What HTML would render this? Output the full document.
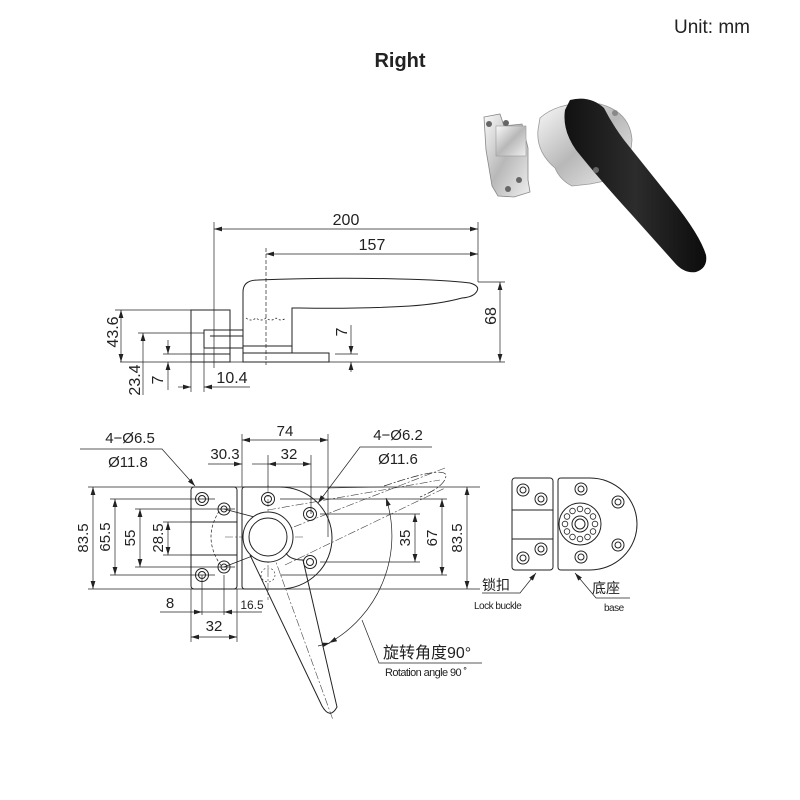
<!DOCTYPE html>
<html><head><meta charset="utf-8">
<style>
html,body{margin:0;padding:0;background:#fff;}
svg{display:block;}
text{font-family:"Liberation Sans","Noto Sans CJK SC",sans-serif;fill:#222;}
</style></head>
<body>
<svg width="800" height="800" viewBox="0 0 800 800" xmlns="http://www.w3.org/2000/svg">
<defs>
<marker id="a" viewBox="0 0 10 6" refX="10" refY="3" markerWidth="8" markerHeight="5" orient="auto-start-reverse" markerUnits="userSpaceOnUse"><path d="M0,0 L10,3 L0,6 z" fill="#222"/></marker>
<linearGradient id="ch" x1="0" y1="0" x2="1" y2="1"><stop offset="0" stop-color="#fafafa"/><stop offset="0.5" stop-color="#b8b8b8"/><stop offset="1" stop-color="#f0f0f0"/></linearGradient>
<linearGradient id="bk" x1="0" y1="0" x2="1" y2="0"><stop offset="0" stop-color="#111"/><stop offset="0.5" stop-color="#2c2c2c"/><stop offset="1" stop-color="#0c0c0c"/></linearGradient>
</defs>

<text x="712" y="33" font-size="19" text-anchor="middle">Unit:  mm</text>
<text x="400" y="67" font-size="20" font-weight="bold" text-anchor="middle">Right</text>

<!-- photo -->
<g>
<path d="M484,117 L500,114 L504,126 L522,124 L528,148 L528,180 L530,192 L514,197 L498,196 L492,186 L486,150 Z" fill="url(#ch)" stroke="#888" stroke-width="0.8"/>
<rect x="496" y="126" width="30" height="30" fill="url(#ch)" stroke="#999" stroke-width="0.6"/>
<circle cx="489" cy="124" r="3" fill="#666"/><circle cx="506" cy="123" r="3" fill="#666"/>
<circle cx="519" cy="180" r="3" fill="#666"/><circle cx="508" cy="189" r="3" fill="#666"/>
<path d="M540,118 Q560,100 600,104 Q630,112 632,140 Q630,170 610,180 L590,184 L572,186 Q560,180 555,168 Q536,152 538,130 Z" fill="url(#ch)" stroke="#999" stroke-width="0.8"/>
<path d="M570,100 Q590,95 604,108 Q612,124 624,140 L672,200 Q700,235 706,255 Q708,268 696,272 Q684,274 674,262 L632,215 Q600,180 576,150 Q562,130 565,110 Z" fill="url(#bk)"/>
<circle cx="615" cy="113" r="3" fill="#888"/><circle cx="596" cy="170" r="3" fill="#666"/>
</g>

<g stroke="#222" fill="none" stroke-width="1">
<!-- side view -->
<path d="M243,353 L243,292 Q243,280 258,280 Q330,277 400,279 Q445,280 470,283 Q480,286 477,291 Q474,297 462,298 Q440,304 410,306 Q360,309 300,308 L292,308 L292,353"/>
<rect x="243" y="353" width="86" height="9"/>
<line x1="243" y1="346" x2="292" y2="346"/>
<path d="M191,362 L191,310 L230,310 L230,362 Z"/>
<line x1="191" y1="354" x2="230" y2="354"/>
<path d="M204,348 L204,330 L243,330 M204,348 L243,348 M210,336 L243,336"/>
<path d="M246,318 q5,4 10,0 q5,4 10,0 q5,4 10,0 q5,4 10,0" stroke-dasharray="2,2" stroke-width="0.8"/>
</g>
<g stroke="#222" fill="none" stroke-width="0.7">
<line x1="214" y1="222" x2="214" y2="368"/>
<line x1="478" y1="222" x2="478" y2="282"/>
<line x1="266" y1="248" x2="266" y2="365" stroke-dasharray="4,2"/>
<line x1="214" y1="229" x2="478" y2="229" marker-start="url(#a)" marker-end="url(#a)"/>
<line x1="266" y1="254" x2="478" y2="254" marker-start="url(#a)" marker-end="url(#a)"/>
<line x1="120" y1="362" x2="505" y2="362"/>
<line x1="478" y1="282" x2="505" y2="282"/>
<line x1="500" y1="282" x2="500" y2="362" marker-start="url(#a)" marker-end="url(#a)"/>
<line x1="115" y1="310" x2="191" y2="310"/>
<line x1="121" y1="310" x2="121" y2="362" marker-start="url(#a)" marker-end="url(#a)"/>
<line x1="138" y1="333" x2="204" y2="333"/>
<line x1="143" y1="333" x2="143" y2="395" marker-start="url(#a)"/>
<line x1="163" y1="354" x2="191" y2="354"/>
<line x1="168" y1="340" x2="168" y2="354" marker-end="url(#a)"/>
<line x1="168" y1="362" x2="168" y2="390" marker-start="url(#a)"/>
<line x1="191" y1="362" x2="191" y2="392"/>
<line x1="204" y1="348" x2="204" y2="392"/>
<line x1="178" y1="387" x2="191" y2="387" marker-end="url(#a)"/>
<line x1="204" y1="387" x2="250" y2="387" marker-start="url(#a)"/>
<line x1="335" y1="354" x2="358" y2="354"/>
<line x1="351" y1="325" x2="351" y2="354" marker-end="url(#a)"/>
<line x1="351" y1="362" x2="351" y2="372" marker-start="url(#a)"/>
</g>
<g font-size="16">
<text x="346" y="225" text-anchor="middle">200</text>
<text x="372" y="250" text-anchor="middle">157</text>
<text x="232" y="383" text-anchor="middle">10.4</text>
<text transform="translate(496,316) rotate(-90)" text-anchor="middle">68</text>
<text transform="translate(118,332) rotate(-90)" text-anchor="middle">43.6</text>
<text transform="translate(140,380) rotate(-90)" text-anchor="middle">23.4</text>
<text transform="translate(163,380) rotate(-90)" text-anchor="middle">7</text>
<text transform="translate(347,332) rotate(-90)" text-anchor="middle">7</text>
</g>

<!-- bottom view -->
<g stroke="#222" fill="none" stroke-width="0.7">
<g stroke-dasharray="8,2,2,2" stroke="#444" stroke-width="0.6">
<line x1="268" y1="485" x2="268" y2="600"/>
<line x1="225" y1="537" x2="305" y2="537"/>
<line x1="268" y1="540" x2="333" y2="720"/>
<line x1="268" y1="537" x2="445" y2="468"/>
<line x1="268" y1="510" x2="440" y2="480"/>
<line x1="285" y1="565" x2="445" y2="488"/>
</g>
<line x1="88" y1="487" x2="480" y2="487"/>
<line x1="88" y1="589" x2="480" y2="589"/>
<line x1="110" y1="499" x2="215" y2="499"/>
<line x1="110" y1="575" x2="215" y2="575"/>
<line x1="135" y1="509" x2="235" y2="509"/>
<line x1="135" y1="567" x2="235" y2="567"/>
<line x1="163" y1="522" x2="191" y2="522"/>
<line x1="163" y1="555" x2="191" y2="555"/>
<line x1="93" y1="487" x2="93" y2="589" marker-start="url(#a)" marker-end="url(#a)"/>
<line x1="115" y1="499" x2="115" y2="575" marker-start="url(#a)" marker-end="url(#a)"/>
<line x1="140" y1="509" x2="140" y2="567" marker-start="url(#a)" marker-end="url(#a)"/>
<line x1="168" y1="522" x2="168" y2="555" marker-start="url(#a)" marker-end="url(#a)"/>
<line x1="320" y1="514" x2="420" y2="514"/>
<line x1="320" y1="562" x2="420" y2="562"/>
<line x1="280" y1="499" x2="447" y2="499"/>
<line x1="280" y1="575" x2="447" y2="575"/>
<line x1="415" y1="514" x2="415" y2="562" marker-start="url(#a)" marker-end="url(#a)"/>
<line x1="442" y1="499" x2="442" y2="575" marker-start="url(#a)" marker-end="url(#a)"/>
<line x1="467" y1="487" x2="467" y2="589" marker-start="url(#a)" marker-end="url(#a)"/>
<line x1="242" y1="434" x2="242" y2="487"/>
<line x1="328" y1="434" x2="328" y2="537"/>
<line x1="268" y1="455" x2="268" y2="487"/>
<line x1="311" y1="455" x2="311" y2="514"/>
<line x1="242" y1="440" x2="328" y2="440" marker-start="url(#a)" marker-end="url(#a)"/>
<line x1="208" y1="464" x2="242" y2="464" marker-end="url(#a)"/>
<line x1="268" y1="464" x2="311" y2="464" marker-start="url(#a)" marker-end="url(#a)"/>
<line x1="252" y1="464" x2="268" y2="464"/>
<line x1="191" y1="589" x2="191" y2="642"/>
<line x1="237" y1="589" x2="237" y2="642"/>
<line x1="202" y1="575" x2="202" y2="615"/>
<line x1="224" y1="575" x2="224" y2="615"/>
<line x1="160" y1="612" x2="202" y2="612" marker-end="url(#a)"/>
<line x1="202" y1="612" x2="224" y2="612"/>
<line x1="224" y1="612" x2="262" y2="612" marker-start="url(#a)"/>
<line x1="191" y1="637" x2="237" y2="637" marker-start="url(#a)" marker-end="url(#a)"/>
<path d="M80,449 L162,449 L195,486" marker-end="url(#a)"/>
<path d="M432,447 L360,447 L318,503" marker-end="url(#a)"/>
<path d="M386,498 A123,123 0 0 1 329,643" marker-start="url(#a)" marker-end="url(#a)"/>
<line x1="318" y1="646" x2="330" y2="643" marker-end="url(#a)"/>
<path d="M362,620 L379,663 L482,663"/>
</g>
<g stroke="#222" fill="none" stroke-width="1">
<rect x="191" y="487" width="46" height="102" rx="3"/>
<line x1="191" y1="522" x2="237" y2="522"/>
<line x1="191" y1="555" x2="237" y2="555"/>
<path d="M245,487 L280,487 A52,51 0 0 1 280,589 L245,589 Q242,589 242,586 L242,490 Q242,487 245,487 Z"/>
<circle cx="202" cy="499" r="6.5"/><circle cx="202" cy="499" r="3.5"/>
<circle cx="202" cy="575" r="6.5"/><circle cx="202" cy="575" r="3.5"/>
<circle cx="224" cy="509" r="6"/><circle cx="224" cy="509" r="3"/>
<circle cx="224" cy="567" r="6"/><circle cx="224" cy="567" r="3"/>
<circle cx="268" cy="499" r="6.5"/><circle cx="268" cy="499" r="3.5"/>
<circle cx="310" cy="514" r="6.5"/><circle cx="310" cy="514" r="3.5"/>
<circle cx="310" cy="562" r="6.5"/><circle cx="310" cy="562" r="3.5"/>
<path d="M224,509 L258,518 M224,567 L255,555" stroke-width="0.8"/>
<path d="M222,507 Q200,537 222,567" stroke-dasharray="3,2" stroke-width="0.7"/>
<circle cx="268" cy="575" r="7" stroke-dasharray="2,2" stroke-width="0.6"/>
<circle cx="268" cy="537" r="25" fill="#fff"/>
<circle cx="268" cy="537" r="19"/>
<path d="M250,555 L322,706 Q330,720 337,707 L303,560 Q290,560 286,553" fill="none"/>
<path d="M384,486 Q443,466 446,475 Q446,486 420,497" stroke-dasharray="8,2,2,2" stroke-width="0.7"/>
<line x1="328" y1="488" x2="384" y2="487" stroke-width="0.5"/>
</g>
<g font-size="15">
<text x="130" y="443" text-anchor="middle">4−Ø6.5</text>
<text x="128" y="467" text-anchor="middle">Ø11.8</text>
<text x="285" y="436" text-anchor="middle">74</text>
<text x="225" y="459" text-anchor="middle">30.3</text>
<text x="289" y="459" text-anchor="middle">32</text>
<text x="398" y="440" text-anchor="middle">4−Ø6.2</text>
<text x="398" y="464" text-anchor="middle">Ø11.6</text>
<text x="170" y="608" text-anchor="middle">8</text>
<text x="214" y="631" text-anchor="middle">32</text>
<text x="252" y="609" text-anchor="middle" font-size="12">16.5</text>
<text transform="translate(88,538) rotate(-90)" text-anchor="middle">83.5</text>
<text transform="translate(110,537) rotate(-90)" text-anchor="middle">65.5</text>
<text transform="translate(135,538) rotate(-90)" text-anchor="middle">55</text>
<text transform="translate(163,538) rotate(-90)" text-anchor="middle">28.5</text>
<text transform="translate(410,538) rotate(-90)" text-anchor="middle">35</text>
<text transform="translate(437,538) rotate(-90)" text-anchor="middle">67</text>
<text transform="translate(462,538) rotate(-90)" text-anchor="middle">83.5</text>
<text x="383" y="658" font-size="16">旋转角度90°</text>
<text x="385" y="676" font-size="11" letter-spacing="-0.6">Rotation angle 90 ˚</text>
</g>

<!-- small right view -->
<g stroke="#222" fill="none" stroke-width="1">
<rect x="512" y="478" width="41" height="92" rx="3"/>
<line x1="512" y1="510" x2="553" y2="510"/>
<line x1="512" y1="539" x2="553" y2="539"/>
<circle cx="523" cy="490" r="6"/><circle cx="523" cy="490" r="3"/>
<circle cx="541" cy="499" r="6"/><circle cx="541" cy="499" r="3"/>
<circle cx="541" cy="549" r="6"/><circle cx="541" cy="549" r="3"/>
<circle cx="523" cy="558" r="6"/><circle cx="523" cy="558" r="3"/>
<path d="M561,478 L590,478 A47,46 0 0 1 590,570 L561,570 Q558,570 558,567 L558,481 Q558,478 561,478 Z"/>
<circle cx="581" cy="489" r="6"/><circle cx="581" cy="489" r="3"/>
<circle cx="618" cy="502" r="6"/><circle cx="618" cy="502" r="3"/>
<circle cx="618" cy="545" r="6"/><circle cx="618" cy="545" r="3"/>
<circle cx="581" cy="557" r="6"/><circle cx="581" cy="557" r="3"/>
<circle cx="580" cy="524" r="21"/>
<circle cx="580" cy="524" r="8"/><circle cx="580" cy="524" r="5"/>
<g stroke-width="0.8">
<circle cx="595" cy="524" r="2.8"/><circle cx="593" cy="531.5" r="2.8"/><circle cx="587.5" cy="537" r="2.8"/><circle cx="580" cy="539" r="2.8"/><circle cx="572.5" cy="537" r="2.8"/><circle cx="567" cy="531.5" r="2.8"/><circle cx="565" cy="524" r="2.8"/><circle cx="567" cy="516.5" r="2.8"/><circle cx="572.5" cy="511" r="2.8"/><circle cx="580" cy="509" r="2.8"/><circle cx="587.5" cy="511" r="2.8"/><circle cx="593" cy="516.5" r="2.8"/>
</g>
</g>
<g stroke="#222" fill="none" stroke-width="0.7">
<path d="M536,573 L520,593 L482,593" marker-start="url(#a)"/>
<path d="M575,573 L596,598 L630,598" marker-start="url(#a)"/>
</g>
<text x="482" y="590" font-size="14">锁扣</text>
<text x="474" y="609" font-size="10" letter-spacing="-0.5">Lock buckle</text>
<text x="592" y="593" font-size="14">底座</text>
<text x="604" y="611" font-size="10" letter-spacing="-0.5">base</text>
</svg>
</body></html>
